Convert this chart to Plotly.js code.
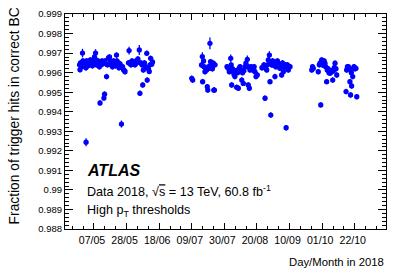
<!DOCTYPE html>
<html>
<head>
<meta charset="utf-8">
<script src="https://cdn.plot.ly/plotly-3.0.1.min.js"></script>
<style>html,body{margin:0;padding:0;background:#fff;}#chart{width:407px;height:275px;}</style>
</head>
<body>
<div id="chart"></div>
<script>
// Run day (days since 1 Jan 2018) and fraction of trigger hits in the correct BC
const runDay = [
  116.7,117.0,117.3,117.9,118.6,118.9,119.6,120.2,120.5,120.8,120.9,121.2,121.8,122.1,122.8,123.1,123.7,124.1,124.7,125.0,125.7,
  126.3,127.0,127.3,127.6,128.3,128.6,129.2,129.5,129.9,130.2,130.8,131.2,131.8,132.4,132.8,133.1,133.7,134.1,134.7,
  135.3,136.0,136.6,137.0,137.6,137.9,138.6,138.9,139.5,139.9,140.5,140.8,141.1,141.8,142.1,142.8,143.4,143.7,144.4,145.0,145.7,146.0,
  148.2,148.6,149.2,149.8,150.5,151.1,151.8,152.4,153.1,153.7,154.3,155.2,155.6,156.3,156.9,157.4,157.8,158.5,159.2,160.0,160.3,161.1,161.6,162.1,162.5,163.2,163.7,
  189.0,189.6,
  195.3,195.8,196.0,196.6,196.9,197.5,198.2,198.6,199.0,199.3,199.8,200.3,200.7,201.1,201.5,201.8,202.3,202.9,203.2,203.6,204.0,
  211.7,212.5,213.2,214.1,214.4,214.7,215.2,215.8,216.2,216.8,217.3,217.9,218.5,219.0,219.4,220.1,220.5,221.2,221.7,222.2,222.6,223.3,223.9,224.8,225.2,225.4,226.1,226.5,227.2,227.8,228.3,228.8,229.2,229.7,230.4,231.2,
  234.2,235.1,235.5,236.2,236.5,237.3,237.8,238.3,239.0,239.4,239.9,240.2,240.7,241.1,241.5,242.0,242.6,243.1,243.7,244.2,244.7,245.2,245.8,246.3,246.9,247.5,248.0,248.4,249.1,249.4,249.8,250.2,250.7,251.2,251.8,252.3,
  266.3,266.8,267.3,270.5,271.2,271.6,272.1,272.7,273.2,273.7,274.3,274.8,275.3,275.9,276.3,276.8,277.4,278.1,278.7,279.2,279.8,280.3,280.8,281.3,281.9,282.4,
  288.4,288.8,289.3,289.9,290.3,290.9,291.3,291.8,292.0,292.7,293.2,293.5,294.2,294.8,295.3
];
const fraction = [
  0.99640,0.99615,0.99650,0.99630,0.99700,0.99660,0.99640,0.99655,0.99630,0.99625,0.99244,0.99660,0.99645,0.99635,0.99660,0.99640,0.99665,0.99645,0.99650,0.99635,0.99660,
  0.99680,0.99700,0.99665,0.99640,0.99650,0.99660,0.99640,0.99630,0.99445,0.99650,0.99640,0.99660,0.99650,0.99470,0.99490,0.99660,0.99645,0.99580,0.99640,
  0.99675,0.99680,0.99660,0.99640,0.99650,0.99630,0.99660,0.99640,0.99655,0.99635,0.99690,0.99660,0.99640,0.99650,0.99625,0.99645,0.99635,0.99337,0.99630,0.99615,0.99610,0.99605,
  0.99650,0.99713,0.99650,0.99640,0.99660,0.99645,0.99655,0.99640,0.99660,0.99650,0.99670,0.99716,0.99494,0.99650,0.99640,0.99537,0.99614,0.99650,0.99630,0.99699,0.99562,0.99620,0.99606,0.99640,0.99673,0.99643,0.99655,
  0.99571,0.99562,
  0.99639,0.99682,0.99554,0.99660,0.99630,0.99605,0.99620,0.99614,0.99528,0.99511,0.99630,0.99622,0.99750,0.99656,0.99640,0.99630,0.99620,0.99648,0.99511,0.99511,0.99640,
  0.99630,0.99622,0.99605,0.99673,0.99639,0.99537,0.99620,0.99605,0.99590,0.99580,0.99610,0.99525,0.99600,0.99520,0.99622,0.99630,0.99614,0.99562,0.99600,0.99545,0.99610,0.99630,0.99648,0.99668,0.99630,0.99537,0.99520,0.99614,0.99630,0.99620,0.99614,0.99615,0.99630,0.99605,0.99580,0.99588,
  0.99625,0.99630,0.99640,0.99469,0.99622,0.99614,0.99640,0.99665,0.99690,0.99554,0.99383,0.99650,0.99639,0.99660,0.99656,0.99640,0.99580,0.99630,0.99639,0.99660,0.99648,0.99630,0.99622,0.99640,0.99588,0.99650,0.99605,0.99630,0.99630,0.99640,0.99318,0.99622,0.99640,0.99614,0.99630,0.99630,
  0.99614,0.99630,0.99622,0.99605,0.99640,0.99648,0.99435,0.99665,0.99640,0.99639,0.99660,0.99648,0.99630,0.99554,0.99614,0.99620,0.99600,0.99597,0.99610,0.99605,0.99562,0.99610,0.99625,0.99648,0.99620,0.99588,
  0.99503,0.99614,0.99630,0.99630,0.99620,0.99554,0.99486,0.99600,0.99532,0.99580,0.99622,0.99630,0.99620,0.99622,0.99477
];
// Statistical uncertainty (typical) and the larger uncertainties of a few runs
const typicalError = 0.00014;
const largeErrorDays = [118.6, 120.9, 127.0, 148.6, 155.2, 195.8, 200.7, 214.1, 224.8, 239.0, 143.7];
const largeErrorValues = [0.00022, 0.00020, 0.00020, 0.00020, 0.00026, 0.00022, 0.00030, 0.00020, 0.00020, 0.00020, 0.00018];

const yTickVals = [0.988,0.989,0.990,0.991,0.992,0.993,0.994,0.995,0.996,0.997,0.998,0.999];
const yTickText = ['0.988','0.989','0.99','0.991','0.992','0.993','0.994','0.995','0.996','0.997','0.998','0.999'];

const yearStart = Date.UTC(2018,0,1);
function dayToDate(d){
  return new Date(yearStart + d*864e5).toISOString().slice(0,19).replace('T',' ');
}
const xDates = runDay.map(dayToDate);
const errs = runDay.map(d => {
  const i = largeErrorDays.indexOf(d);
  return i >= 0 ? largeErrorValues[i] : typicalError;
});

const FONT = 'Liberation Sans, Arial, Helvetica, sans-serif';

const trace = {
  x: xDates, y: fraction, type: 'scatter', mode: 'markers',
  marker: {color: '#0000ff', size: 5.3, symbol: 'circle'},
  error_y: {type: 'data', array: errs, visible: true, color: '#0000ff', thickness: 1.3, width: 0},
  hoverinfo: 'x+y', showlegend: false
};

const layout = {
  width: 407, height: 275,
  margin: {l: 65, r: 21, t: 14, b: 46},
  paper_bgcolor: '#fff', plot_bgcolor: '#fff',
  font: {family: FONT, color: '#000'},
  xaxis: {
    type: 'date',
    range: [dayToDate(107.32), dayToDate(314.14)],
    tick0: '2018-05-07', dtick: 21*864e5, tickformat: '%d/%m',
    ticks: 'inside', ticklen: 6, tickwidth: 1, tickcolor: '#000',
    minor: {dtick: 7*864e5, tick0: '2018-05-07', ticks: 'inside', ticklen: 3, tickcolor: '#000', showgrid: false},
    showline: true, linecolor: '#000', linewidth: 1, mirror: 'allticks',
    showgrid: false, zeroline: false,
    tickfont: {family: FONT, size: 10.6, color: '#000'},
    ticklabelstandoff: 1,
    ticklabelshift: -2
  },
  yaxis: {
    range: [0.988, 0.999],
    tickvals: yTickVals, ticktext: yTickText,
    ticks: 'inside', ticklen: 8, tickwidth: 1, tickcolor: '#000',
    minor: {dtick: 0.0002, ticks: 'inside', ticklen: 4, tickcolor: '#000', showgrid: false},
    showline: true, linecolor: '#000', linewidth: 1, mirror: 'allticks',
    showgrid: false, zeroline: false,
    tickfont: {family: FONT, size: 9.5, color: '#000'}
  },
  annotations: [
    {text: 'Fraction of trigger hits in correct BC', xref: 'paper', yref: 'paper',
     x: -0.156, y: 1.042, xanchor: 'center', yanchor: 'top', textangle: -90, showarrow: false,
     font: {family: FONT, size: 13.8, color: '#000'}},
    {text: 'Day/Month in 2018', xref: 'paper', yref: 'paper',
     x: 1, y: -0.155, xanchor: 'right', yanchor: 'middle', showarrow: false,
     font: {family: FONT, size: 11.3, color: '#000'}},
    {text: '<b><i>ATLAS</i></b>', xref: 'paper', yref: 'paper',
     x: 0.063, y: 0.27, xanchor: 'left', yanchor: 'middle', showarrow: false,
     font: {family: FONT, size: 16, color: '#000'}},
    {text: 'Data 2018, √<span style="text-decoration:overline">s</span> = 13 TeV, 60.8 fb<sup>-1</sup>', xref: 'paper', yref: 'paper',
     x: 0.063, y: 0.177, xanchor: 'left', yanchor: 'middle', showarrow: false,
     font: {family: FONT, size: 12.6, color: '#000'}},
    {text: 'High p<sub>T</sub> thresholds', xref: 'paper', yref: 'paper',
     x: 0.063, y: 0.085, xanchor: 'left', yanchor: 'middle', showarrow: false,
     font: {family: FONT, size: 12.6, color: '#000'}}
  ]
};

Plotly.newPlot('chart', [trace], layout, {displayModeBar: false, staticPlot: true});
</script>
</body>
</html>
